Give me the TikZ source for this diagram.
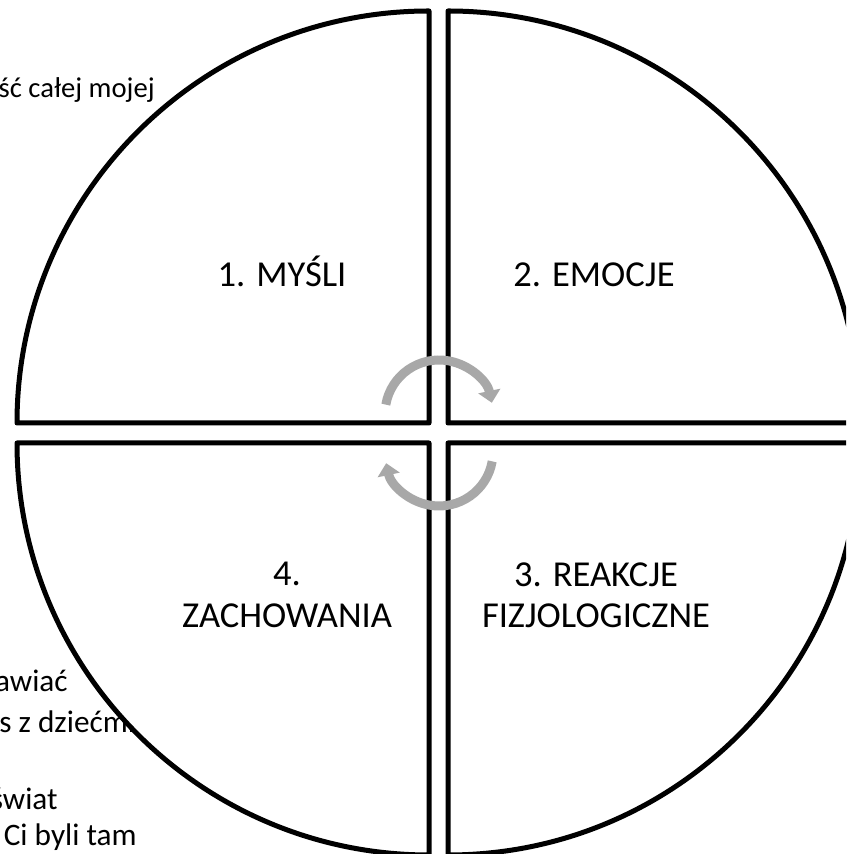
\documentclass[tikz,border=0pt]{standalone}
\usepackage{fontspec}
\setmainfont{Carlito}
\usetikzlibrary{arrows.meta}

\begin{document}
\begin{tikzpicture}[
  x=0.02cm, y=0.02cm,
  sector/.style={draw, fill=white, line width=0.1cm, line join=round},
  cyc/.style={draw=gray!68, line width=0.18cm, -{Triangle[width=0.44cm,length=0.24cm]}},
  lbl/.style={align=center, font=\fontsize{20.8}{23.5}\selectfont},
  frag/.style={inner sep=0pt, font=\fontsize{17.8}{21}\selectfont},
]
  \fill[white] (0,0) rectangle (846,854);
  \useasboundingbox (0,0) rectangle (846,854);
  \clip (0,0) rectangle (846,854);

  % text behind the circle
  \node[frag, font=\fontsize{16.3}{20}\selectfont, anchor=base east] (fraga) at (155,756) {ść całej mojej};
  \node[frag, anchor=base east] (fragb) at (68,162) {awiać};
  \node[frag, anchor=base west] (fragc) at (-1,121) {s z dziećmi,};
  \node[frag, anchor=base east] (fragd) at (58,44) {świat};
  \node[frag, anchor=base east] (frage) at (137,9) {Ci byli tam};

  % four quarters
  \draw[sector] (429,431) -- (429,843) arc[start angle=90, end angle=180, radius=412] -- cycle;
  \draw[sector] (448,431) -- (860,431) arc[start angle=0, end angle=90, radius=412] -- cycle;
  \draw[sector] (429,411) -- (17,411) arc[start angle=180, end angle=270, radius=412] -- cycle;
  \draw[sector] (448,411) -- (448,-1) arc[start angle=270, end angle=360, radius=412] -- cycle;

  \node[lbl, anchor=base] (mysli) at (282,567) {1. MYŚLI};
  \node[lbl, anchor=base] (emocje) at (594,567) {2. EMOCJE};
  \node[lbl] (reakcje) at (596,259) {3. REAKCJE\\FIZJOLOGICZNE};
  \node[lbl] (zachow) at (287,259) {4.\\ZACHOWANIA};

  % cycle arrows
  \draw[cyc] ([shift={(170:54)}]439,440) arc[start angle=170, end angle=12, radius=54];
  \draw[cyc] ([shift={(-10:54)}]439,402) arc[start angle=-10, end angle=-168, radius=54];
\end{tikzpicture}
\end{document}
